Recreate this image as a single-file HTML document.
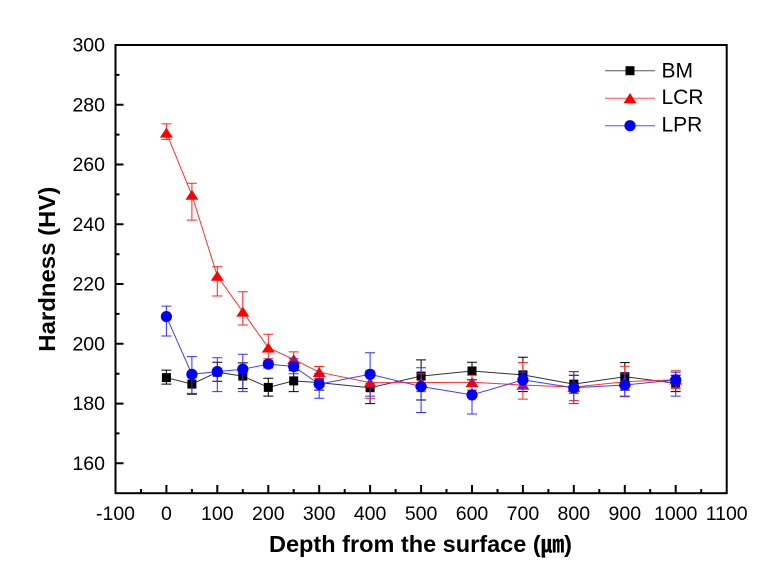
<!DOCTYPE html>
<html><head><meta charset="utf-8">
<style>
html,body{margin:0;padding:0;background:#fff;}
svg{display:block;}
text{font-family:"Liberation Sans","Noto Sans CJK JP",sans-serif;fill:#000;}
</style></head>
<body>
<svg width="782" height="581" viewBox="0 0 782 581" xmlns="http://www.w3.org/2000/svg">
<rect x="0" y="0" width="782" height="581" fill="#fff"/>

<!-- ticks -->
<path d="M166.4 493.2V485M217.3 493.2V485M268.3 493.2V485M319.2 493.2V485M370.1 493.2V485M421.1 493.2V485M472 493.2V485M522.9 493.2V485M573.8 493.2V485M624.8 493.2V485M675.7 493.2V485
M141 493.2V489M191.9 493.2V489M242.8 493.2V489M293.7 493.2V489M344.7 493.2V489M395.6 493.2V489M446.5 493.2V489M497.5 493.2V489M548.4 493.2V489M599.3 493.2V489M650.2 493.2V489M701.2 493.2V489
M115.5 463.3H123.5M115.5 403.6H123.5M115.5 343.8H123.5M115.5 284H123.5M115.5 224.3H123.5M115.5 164.5H123.5M115.5 104.8H123.5
M115.5 433.4H119.5M115.5 373.7H119.5M115.5 313.9H119.5M115.5 254.2H119.5M115.5 194.4H119.5M115.5 134.6H119.5M115.5 74.9H119.5" stroke="#000" stroke-width="2" fill="none"/>

<!-- frame -->
<rect x="115.5" y="45" width="611.2" height="448.2" fill="none" stroke="#000" stroke-width="2"/>

<!-- y tick labels -->
<g font-size="19.5" text-anchor="end">
<text x="105" y="51.5">300</text>
<text x="105" y="111.3">280</text>
<text x="105" y="171">260</text>
<text x="105" y="230.8">240</text>
<text x="105" y="290.5">220</text>
<text x="105" y="350.3">200</text>
<text x="105" y="410.1">180</text>
<text x="105" y="469.8">160</text>
</g>
<!-- x tick labels -->
<g font-size="19.5" text-anchor="middle">
<text x="115.5" y="520">-100</text>
<text x="166.4" y="520">0</text>
<text x="217.3" y="520">100</text>
<text x="268.3" y="520">200</text>
<text x="319.2" y="520">300</text>
<text x="370.1" y="520">400</text>
<text x="421.1" y="520">500</text>
<text x="472" y="520">600</text>
<text x="522.9" y="520">700</text>
<text x="573.8" y="520">800</text>
<text x="624.8" y="520">900</text>
<text x="675.7" y="520">1000</text>
<text x="726.7" y="520">1100</text>
</g>

<!-- axis titles -->
<text x="269" y="552" font-size="23.5" font-weight="bold" textLength="303" lengthAdjust="spacingAndGlyphs">Depth from the surface (㎛)</text>
<text transform="translate(55,351.7) rotate(-90)" x="0" y="0" font-size="23.5" font-weight="bold" textLength="165" lengthAdjust="spacingAndGlyphs">Hardness (HV)</text>

<!-- BM series -->
<g stroke="#000" stroke-width="1" fill="none">
<path d="M166.4 384.1V370.1M161.4 384.1h10M161.4 370.1h10
M191.9 394.3V373.7M186.9 394.3h10M186.9 373.7h10
M217.3 381.2V362.3M212.3 381.2h10M212.3 362.3h10
M242.8 388.6V362.9M237.8 388.6h10M237.8 362.9h10
M268.3 396.1V378.2M263.3 396.1h10M263.3 378.2h10
M293.7 391.6V370.7M288.7 391.6h10M288.7 370.7h10
M319.2 390.1V375.2M314.2 390.1h10M314.2 375.2h10
M370.1 403.6V372.2M365.1 403.6h10M365.1 372.2h10
M421.1 400V359.9M416.1 400h10M416.1 359.9h10
M472 379.7V362.3M467 379.7h10M467 362.3h10
M522.9 391.6V357.2M517.9 391.6h10M517.9 357.2h10
M573.8 393.1V375.2M568.8 393.1h10M568.8 375.2h10
M624.8 390.1V362.6M619.8 390.1h10M619.8 362.6h10
M675.7 391.6V375.2M670.7 391.6h10M670.7 375.2h10"/>
<polyline stroke="#333" points="166.4,377.6 191.9,384.1 217.3,372.2 242.8,376.1 268.3,387.4 293.7,380.9 319.2,382.6 370.1,387.7 421.1,376.1 472,371 522.9,374.9 573.8,384.1 624.8,376.7 675.7,383.2"/>
</g>
<g fill="#000">
<rect x="161.9" y="373.1" width="9" height="9"/>
<rect x="187.4" y="379.6" width="9" height="9"/>
<rect x="212.8" y="367.7" width="9" height="9"/>
<rect x="238.3" y="371.6" width="9" height="9"/>
<rect x="263.8" y="382.9" width="9" height="9"/>
<rect x="289.2" y="376.4" width="9" height="9"/>
<rect x="314.7" y="378.1" width="9" height="9"/>
<rect x="365.6" y="383.2" width="9" height="9"/>
<rect x="416.6" y="371.6" width="9" height="9"/>
<rect x="467.5" y="366.5" width="9" height="9"/>
<rect x="518.4" y="370.4" width="9" height="9"/>
<rect x="569.3" y="379.6" width="9" height="9"/>
<rect x="620.3" y="372.2" width="9" height="9"/>
<rect x="671.2" y="378.7" width="9" height="9"/>
</g>

<!-- LCR series -->
<g stroke="#ff2020" stroke-width="1" fill="none">
<path d="M166.4 139.4V123.9M161.4 139.4h10M161.4 123.9h10
M191.9 220.1V183.3M186.9 220.1h10M186.9 183.3h10
M217.3 296V266.7M212.3 296h10M212.3 266.7h10
M242.8 325V291.8M237.8 325h10M237.8 291.8h10
M268.3 358.7V334.2M263.3 358.7h10M263.3 334.2h10
M293.7 367.7V351.9M288.7 367.7h10M288.7 351.9h10
M319.2 378.2V366.5M314.2 378.2h10M314.2 366.5h10
M370.1 398.2V370.7M365.1 398.2h10M365.1 370.7h10
M421.1 391.6V373.7M416.1 391.6h10M416.1 373.7h10
M472 390.1V375.2M467 390.1h10M467 375.2h10
M522.9 399.1V362.6M517.9 399.1h10M517.9 362.6h10
M573.8 400.6V371.6M568.8 400.6h10M568.8 371.6h10
M624.8 396.7V366.2M619.8 396.7h10M619.8 366.2h10
M675.7 388.6V370.7M670.7 388.6h10M670.7 370.7h10"/>
<polyline stroke="#ff3030" points="166.4,132.8 191.9,195 217.3,276 242.8,311.8 268.3,347.7 293.7,359.3 319.2,372.2 370.1,382.6 421.1,382.6 472,382.3 522.9,385 573.8,387.1 624.8,381.7 675.7,379.7"/>
</g>
<g fill="#ff0000">
<polygon points="166.4,127.6 159.9,137.6 172.9,137.6"/>
<polygon points="191.9,189.8 185.4,199.8 198.4,199.8"/>
<polygon points="217.3,270.8 210.8,280.8 223.8,280.8"/>
<polygon points="242.8,306.6 236.3,316.6 249.3,316.6"/>
<polygon points="268.3,342.5 261.8,352.5 274.8,352.5"/>
<polygon points="293.7,354.1 287.2,364.1 300.2,364.1"/>
<polygon points="319.2,367 312.7,377 325.7,377"/>
<polygon points="370.1,377.4 363.6,387.4 376.6,387.4"/>
<polygon points="421.1,377.4 414.6,387.4 427.6,387.4"/>
<polygon points="472,377.1 465.5,387.1 478.5,387.1"/>
<polygon points="522.9,379.8 516.4,389.8 529.4,389.8"/>
<polygon points="573.8,381.9 567.3,391.9 580.3,391.9"/>
<polygon points="624.8,376.5 618.3,386.5 631.3,386.5"/>
<polygon points="675.7,374.5 669.2,384.5 682.2,384.5"/>
</g>

<!-- LPR series -->
<g stroke="#3030ff" stroke-width="1" fill="none">
<path d="M166.4 336V306.1M161.4 336h10M161.4 306.1h10
M191.9 393.4V356.6M186.9 393.4h10M186.9 356.6h10
M217.3 391.6V357.8M212.3 391.6h10M212.3 357.8h10
M242.8 391.6V354.3M237.8 391.6h10M237.8 354.3h10
M268.3 368V360.8M263.3 368h10M263.3 360.8h10
M293.7 373.7V358.7M288.7 373.7h10M288.7 358.7h10
M319.2 398.2V373.7M314.2 398.2h10M314.2 373.7h10
M370.1 396.1V352.8M365.1 396.1h10M365.1 352.8h10
M421.1 412.5V367.7M416.1 412.5h10M416.1 367.7h10
M472 414V379.7M467 414h10M467 379.7h10
M522.9 388.6V372.2M517.9 388.6h10M517.9 372.2h10
M573.8 403.6V371.6M568.8 403.6h10M568.8 371.6h10
M624.8 396.1V373.7M619.8 396.1h10M619.8 373.7h10
M675.7 396.1V372.2M670.7 396.1h10M670.7 372.2h10"/>
<polyline stroke="#4040ff" points="166.4,316.6 191.9,374.3 217.3,371.6 242.8,369.2 268.3,364.1 293.7,366.5 319.2,384.1 370.1,374.3 421.1,386.5 472,394.9 522.9,379.9 573.8,387.7 624.8,385 675.7,379.9"/>
</g>
<g fill="#0000ff">
<circle cx="166.4" cy="316.6" r="5.6"/>
<circle cx="191.9" cy="374.3" r="5.6"/>
<circle cx="217.3" cy="371.6" r="5.6"/>
<circle cx="242.8" cy="369.2" r="5.6"/>
<circle cx="268.3" cy="364.1" r="5.6"/>
<circle cx="293.7" cy="366.5" r="5.6"/>
<circle cx="319.2" cy="384.1" r="5.6"/>
<circle cx="370.1" cy="374.3" r="5.6"/>
<circle cx="421.1" cy="386.5" r="5.6"/>
<circle cx="472" cy="394.9" r="5.6"/>
<circle cx="522.9" cy="379.9" r="5.6"/>
<circle cx="573.8" cy="387.7" r="5.6"/>
<circle cx="624.8" cy="385" r="5.6"/>
<circle cx="675.7" cy="379.9" r="5.6"/>
</g>

<!-- legend -->
<line x1="605" y1="70.7" x2="655" y2="70.7" stroke="#555" stroke-width="1"/>
<rect x="625.5" y="66.2" width="9" height="9" fill="#000"/>
<line x1="605" y1="98.3" x2="655" y2="98.3" stroke="#ff5050" stroke-width="1"/>
<polygon points="630,93 623.5,103.3 636.5,103.3" fill="#ff0000"/>
<line x1="605" y1="125.7" x2="655" y2="125.7" stroke="#5050ff" stroke-width="1"/>
<circle cx="630" cy="125.7" r="5.6" fill="#0000ff"/>
<g font-size="21">
<text x="661.5" y="77.3">BM</text>
<text x="661.5" y="104">LCR</text>
<text x="661.5" y="131.7">LPR</text>
</g>
</svg>
</body></html>
